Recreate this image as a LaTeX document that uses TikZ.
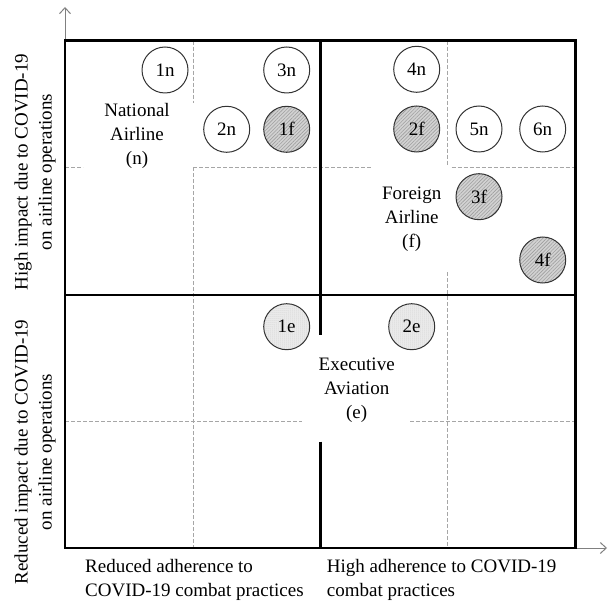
\documentclass[tikz,border=0pt]{standalone}
\usepackage{fontspec}
\setmainfont{Liberation Serif}
\usetikzlibrary{patterns.meta,arrows.meta}
\begin{document}
\begin{tikzpicture}[x=1pt,y=-1pt,
  frame/.style={line width=2.5pt,black},
  gridline/.style={gray!70,line width=1pt,dash pattern=on 4pt off 2pt},
  ax/.style={gray,line width=1pt,-{Straight Barb[length=6pt,width=11pt]}},
  bub/.style={circle,draw=black!80,line width=1pt,minimum size=46pt,inner sep=0pt,font=\fontsize{19}{24}\selectfont},
  nat/.style={bub,fill=white},
  frn/.style={bub,preaction={fill=gray!35},pattern={Lines[angle=45,distance=2.5pt,line width=0.6pt]},pattern color=gray!75},
  exe/.style={bub,preaction={fill=gray!12},pattern={Dots[distance=2pt,radius=0.5pt]},pattern color=gray!60},
  lbl/.style={align=center,inner sep=0pt,font=\fontsize{19}{24}\selectfont},
  axlbl/.style={align=left,inner sep=0pt,anchor=west,font=\fontsize{19}{24}\selectfont}
]
\useasboundingbox (0,0) rectangle (609,601);

% axes
\coordinate (O) at (65,548);
\coordinate (xend) at (607,548);
\coordinate (yend) at (65,7);
\draw[ax] (O) -- (xend);
\draw[ax] (O) -- (yend);

% dashed grid
\draw[gridline] (193.3,40.7) -- (193.3,103);
\draw[gridline] (193.3,167.3) -- (193.3,548);
\draw[gridline] (65,167.3) -- (83,167.3);
\draw[gridline] (193.3,167.3) -- (373,167.3);
\draw[gridline] (447.7,40.7) -- (447.7,165);
\draw[gridline] (451.7,167.3) -- (575.7,167.3);
\draw[gridline] (447.7,272) -- (447.7,548);
\draw[gridline] (65,421.7) -- (301.7,421.7);
\draw[gridline] (410,421.7) -- (575.7,421.7);

% frame
\draw[frame] (65,40.7) rectangle (575.7,548);
\draw[frame] (65,295) -- (575.7,295);
\draw[frame] (320.5,40.7) -- (320.5,335);
\draw[frame] (320.5,441.7) -- (320.5,548);

% bubbles
\node[nat] (n1) at (165,70) {1n};
\node[nat] (n3) at (286.7,70) {3n};
\node[nat] (n2) at (226.7,129.3) {2n};
\node[frn] (f1) at (286.7,129.3) {1f};
\node[nat] (n4) at (416.7,69.3) {4n};
\node[frn] (f2) at (416.7,129) {2f};
\node[nat] (n5) at (479,129) {5n};
\node[nat] (n6) at (542.7,129) {6n};
\node[frn] (f3) at (479,196.7) {3f};
\node[frn] (f4) at (542.7,260) {4f};
\node[exe] (e1) at (286.7,326.7) {1e};
\node[exe] (e2) at (411.7,326.7) {2e};

% group labels
\node[lbl] (natl) at (137,136) {National\\Airline\\(n)};
\node[lbl] (forl) at (411.7,219) {Foreign\\Airline\\(f)};
\node[lbl] (exel) at (356.7,390.5) {Executive\\Aviation\\(e)};

% axis labels
\node[axlbl] (xl1) at (85,580) {Reduced adherence to\\COVID-19 combat practices};
\node[axlbl] (xl2) at (326.7,580) {High adherence to COVID-19\\combat practices};
\node[lbl,rotate=90] (yl1) at (35,172) {High impact due to COVID-19\\on airline operations};
\node[lbl,rotate=90] (yl2) at (35,452) {Reduced impact due to COVID-19\\on airline operations};
\end{tikzpicture}
\end{document}
